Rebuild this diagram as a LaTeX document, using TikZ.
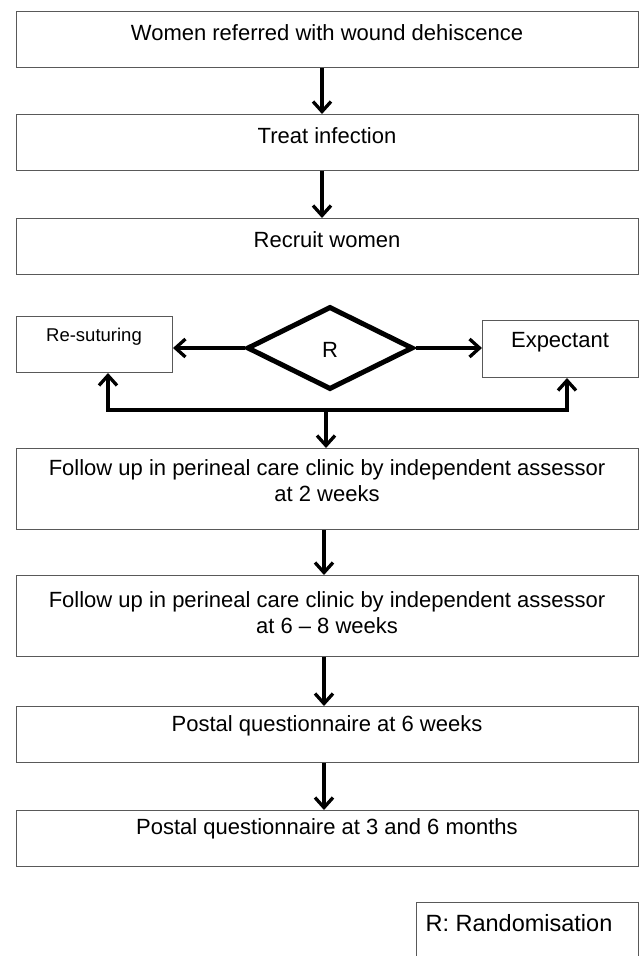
\documentclass[tikz,border=0pt]{standalone}
\usepackage{fontspec}
\setmainfont{Liberation Sans}
\usetikzlibrary{arrows.meta,shapes.geometric}
\begin{document}
\begin{tikzpicture}[x=1pt,y=-1pt,
  box/.style={draw=black!65, line width=1pt, minimum width=622pt, minimum height=56pt, inner sep=0pt, anchor=north west},
  sbox/.style={box, minimum width=156pt},
  txt/.style={font=\fontsize{22}{26}\selectfont, align=center, inner sep=0pt},
  arr/.style={line width=3.3pt, -{Straight Barb[length=10pt,width=18pt,line width=3.3pt]}},
  thick line/.style={line width=3.3pt}
]
\clip (0,0) rectangle (640,956);
\fill[white] (0,0) rectangle (640,956);

% boxes
\node[box] (b1) at (16,11) {};
\node[box] (b2) at (16,114) {};
\node[box] (b3) at (16,218) {};
\node[sbox] (rs) at (16,316) {};
\node[sbox, minimum height=57pt] (ex) at (482,320) {};
\node[box, minimum height=81pt] (fu1) at (16,448) {};
\node[box, minimum height=81pt] (fu2) at (16,575) {};
\node[box] (pq1) at (16,706) {};
\node[box] (pq2) at (16,810) {};
\node[box, minimum width=222pt, minimum height=80pt] (leg) at (416,902) {};

% diamond
\node[diamond, draw=black, line width=5pt, minimum width=166pt, minimum height=83pt, inner sep=0pt] (rd) at (330,348) {};

% texts
\node[txt] (t1) at (327,33) {Women referred with wound dehiscence};
\node[txt] (t2) at (327,136) {Treat infection};
\node[txt] (t3) at (327,240) {Recruit women};
\node[txt, font=\fontsize{18.5}{22}\selectfont] (trs) at (94,337) {Re-suturing};
\node[txt] (tex) at (560,342) {Expectant};
\node[txt, font=\fontsize{22}{26}\selectfont] (tr) at (330,350) {R};
\node[txt] (tf1) at (327,481) {Follow up in perineal care clinic by independent assessor\\at 2 weeks};
\node[txt] (tf2) at (327,613) {Follow up in perineal care clinic by independent assessor\\at 6 -- 8 weeks};
\node[txt] (tp1) at (327,726) {Postal questionnaire at 6 weeks};
\node[txt] (tp2) at (327,829) {Postal questionnaire at 3 and 6 months};
\node[txt, font=\fontsize{23.5}{28}\selectfont] (tleg) at (519,923) {R: Randomisation};

% connectors
\draw[arr] (322,0 |- b1.south) -- (322,0 |- b2.north);
\draw[arr] (322,0 |- b2.south) -- (322,0 |- b3.north);
\draw[arr] (rd.west) -- (rs.east |- rd.west);
\draw[arr] (rd.east) -- (ex.west |- rd.east);
\coordinate (bl) at (108,410);
\coordinate (br) at (567,410);
\coordinate (bm) at (326,410);
\draw[thick line, line cap=rect] (bl) -- (br);
\draw[arr] (bl) -- (bl |- rs.south);
\draw[arr] (br) -- (br |- ex.south);
\draw[arr] (bm) -- (bm |- fu1.north);
\draw[arr] (324,0 |- fu1.south) -- (324,0 |- fu2.north);
\draw[arr] (324,0 |- fu2.south) -- (324,0 |- pq1.north);
\draw[arr] (324,0 |- pq1.south) -- (324,0 |- pq2.north);
\end{tikzpicture}
\end{document}
